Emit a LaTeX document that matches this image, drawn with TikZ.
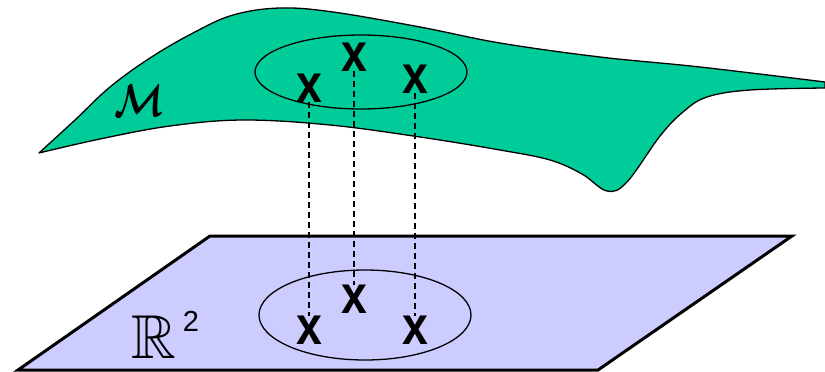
\documentclass[tikz,border=0pt]{standalone}
\usepackage{amsmath,amssymb}
\usepackage{fontspec}
\newfontfamily\arialfont{Liberation Sans}
\usetikzlibrary{positioning}

\definecolor{maniGreen}{RGB}{0,204,153}
\definecolor{planeBlue}{RGB}{204,204,255}

\begin{document}
\begin{tikzpicture}[
  x=1pt,y=-1pt,
  sheet/.style={draw,line width=1.3pt,fill=maniGreen,line join=round},
  plane/.style={draw,line width=3pt,fill=planeBlue,line join=miter},
  patch/.style={draw,line width=1.3pt},
  pt/.style={inner sep=0pt,font=\arialfont\bfseries\fontsize{54}{54}\selectfont,xscale=0.86,transform shape},
  proj/.style={draw,line width=1.3pt,dash pattern=on 6pt off 4pt}]
\useasboundingbox (0,0) rectangle (825,372);
% the plane R^2
\draw[plane] (210,236) -- (792,236) -- (598,370) -- (18,370) -- cycle;
\draw[patch] (365,315) ellipse [x radius=106,y radius=45];
% the manifold
\draw[sheet] plot[smooth,tension=0.6] coordinates {(39,153) (75,120) (110,87) (150,58) (193,33) (233,15) (280,8) (333,12) (420,27) (500,43) (600,57) (700,67) (825,82)}
  -- plot[smooth,tension=0.6] coordinates {(825,88) (750,90) (707,97) (683,112) (660,136) (627,182) (607,191) (582,174) (550,160) (500,150) (420,137) (330,125) (243,120) (170,126) (100,139) (39,153)}
  -- cycle;
\draw[patch] (361,72) ellipse [x radius=106,y radius=37];
\node[xscale=1.45,yscale=1.85,transform shape] (mlab) at (139,101) {\fontsize{24.88}{25}\selectfont$\boldsymbol{\mathcal{M}}$};
% points and their images
\node[pt] (m1) at (309,88) {x};
\node[pt] (m2) at (354,57) {x};
\node[pt] (m3) at (415,79) {x};
\node[pt] (p1) at (309,330) {x};
\node[pt] (p2) at (354,299) {x};
\node[pt] (p3) at (415,330) {x};
\draw[proj] (m1) -- (p1);
\draw[proj] (m2) -- (p2);
\draw[proj] (m3) -- (p3);
\node[anchor=base west,inner sep=0pt] (rlab) at (131,358) {\fontsize{62}{62}\selectfont$\mathbb{R}$\hspace{7pt}\raisebox{27pt}{\arialfont\fontsize{29}{29}\selectfont 2}};
\end{tikzpicture}
\end{document}
